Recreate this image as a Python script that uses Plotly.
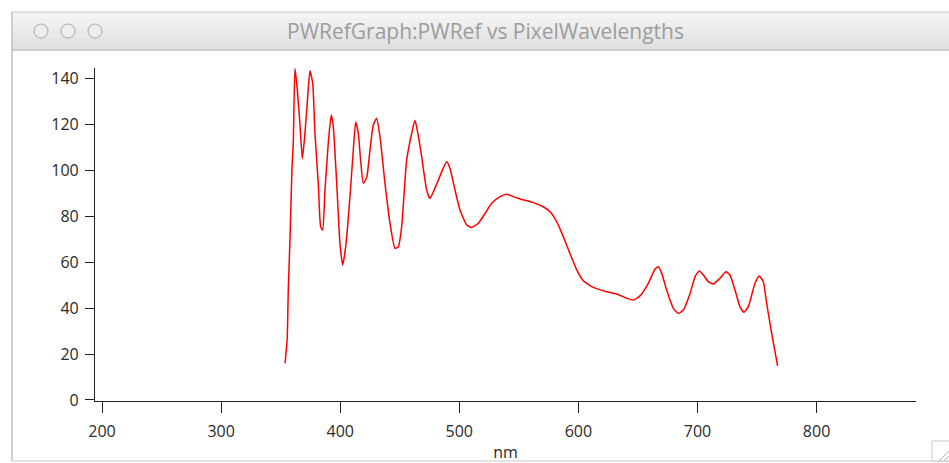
import plotly.graph_objects as go

# ---- data ----
wavelength_nm = [
    353.7, 355.5, 356.4, 357.9, 359.5, 360.6, 362.0, 364.0, 366.2, 368.2,
    370.4, 372.7, 374.6, 376.9, 378.8, 381.6, 383.6, 385.3, 387.2, 390.0,
    392.5, 394.2, 397.1, 399.8, 402.1, 404.9, 408.2, 411.0, 413.0, 415.2,
    417.2, 419.4, 422.3, 425.0, 427.8, 430.6, 433.4, 437.6, 441.8, 446.0,
    448.8, 451.6, 455.8, 460.0, 462.8, 465.6, 468.4, 472.6, 475.4, 478.2,
    482.4, 485.2, 489.4, 492.2, 496.4, 500.6, 506.2, 510.4, 516.0, 521.6,
    527.2, 534.2, 539.8, 545.3, 551.0, 562.1, 570.5, 576.2, 581.8, 587.3,
    592.9, 598.6, 604.1, 612.5, 623.8, 632.2, 640.6, 646.1, 651.7, 658.7,
    664.3, 667.1, 670.0, 674.1, 679.7, 683.9, 688.1, 693.8, 698.0, 701.5,
    704.9, 709.1, 713.3, 718.9, 724.0, 727.3, 731.5, 735.7, 739.0, 742.7,
    748.3, 751.9, 755.3, 758.1, 762.3, 767.3,
]
pwref = [
    16.0, 27.0, 48.0, 71.0, 101.0, 112.0, 144.3, 135.0, 120.0, 105.0,
    116.0, 132.0, 143.3, 138.0, 116.0, 94.0, 75.4, 74.0, 91.0, 112.0,
    124.0, 119.0, 94.0, 68.0, 58.7, 68.0, 88.5, 108.8, 121.0, 116.0,
    104.0, 94.3, 97.0, 108.8, 119.7, 122.6, 114.6, 94.3, 77.0, 66.0,
    66.7, 75.4, 104.4, 116.0, 121.8, 115.0, 105.9, 91.4, 87.7, 90.6,
    95.7, 99.3, 103.7, 100.8, 91.4, 82.7, 76.2, 75.1, 76.9, 81.2,
    85.6, 88.5, 89.6, 88.5, 87.5, 85.9, 84.1, 81.9, 77.6, 71.1,
    63.8, 56.6, 51.9, 49.0, 47.1, 46.1, 44.3, 43.5, 45.3, 50.8,
    56.9, 58.0, 55.1, 47.9, 39.9, 37.7, 39.2, 46.4, 53.7, 56.1,
    54.4, 51.5, 50.5, 53.0, 55.8, 54.4, 47.9, 40.6, 38.2, 40.6,
    50.8, 54.0, 51.5, 42.1, 29.0, 14.8,
]
x_ticks = [200, 300, 400, 500, 600, 700, 800]
y_ticks = [0, 20, 40, 60, 80, 100, 120, 140]
window_title = "PWRefGraph:PWRef vs PixelWavelengths"
x_title = "nm"

# ---- layout geometry (pixels) ----
W, H = 949, 463
L, R, T, B = 95, 916, 68, 401
PW, PH = R - L, B - T


def px(x):
    return (x - L) / PW


def py(y):
    return (B - y) / PH


fig = go.Figure()
fig.add_trace(go.Scatter(
    x=wavelength_nm, y=pwref, mode="lines",
    line=dict(color="#ff0000", width=1.5, shape="spline", smoothing=0.5),
    hoverinfo="skip", showlegend=False,
))

shapes = []
# window title bar (banded gradient)
bands = ["#f4f4f4", "#f0f0f0", "#ececec", "#e8e8e8", "#e4e4e4", "#e0e0e0"]
top, bot = 12, 50
step = (bot - top) / len(bands)
for i, c in enumerate(bands):
    shapes.append(dict(type="rect", xref="paper", yref="paper", layer="below",
                       x0=px(12), x1=px(W + 2), y0=py(top + i * step), y1=py(top + (i + 1) * step + 0.5),
                       fillcolor=c, line=dict(width=0)))
# title bar top & bottom borders
shapes.append(dict(type="line", xref="paper", yref="paper", x0=px(12), x1=px(W + 2),
                   y0=py(12), y1=py(12), line=dict(color="#c8c8c8", width=1)))
shapes.append(dict(type="line", xref="paper", yref="paper", x0=px(12), x1=px(W + 2),
                   y0=py(50), y1=py(50), line=dict(color="#b4b4b4", width=1)))
# left window edge
shapes.append(dict(type="line", xref="paper", yref="paper", x0=px(12), x1=px(12),
                   y0=py(12), y1=py(461), line=dict(color="#c0c0c0", width=1.5)))
# bottom window edge
shapes.append(dict(type="line", xref="paper", yref="paper", x0=px(12), x1=px(W + 2),
                   y0=py(461), y1=py(461), line=dict(color="#c8c8c8", width=1)))
# traffic lights (inactive)
for cx in (41, 68, 95):
    r = 7
    shapes.append(dict(type="circle", xref="paper", yref="paper",
                       x0=px(cx - r), x1=px(cx + r), y0=py(31 - r), y1=py(31 + r),
                       fillcolor="#eeeeee", line=dict(color="#a8a8a8", width=1)))
# resize grip
shapes.append(dict(type="rect", xref="paper", yref="paper",
                   x0=px(932), x1=px(W + 2), y0=py(441), y1=py(461),
                   fillcolor="#ffffff", line=dict(color="#c8c8c8", width=1)))
for d in (5, 10):
    shapes.append(dict(type="line", xref="paper", yref="paper",
                       x0=px(W - d), x1=px(W), y0=py(461), y1=py(461 - d),
                       line=dict(color="#b0b0b0", width=1)))

fig.update_layout(
    width=W, height=H,
    margin=dict(l=L, r=W - R, t=T, b=H - B, pad=0, autoexpand=False),
    paper_bgcolor="#ffffff", plot_bgcolor="#ffffff",
    font=dict(family="Open Sans, Liberation Sans, sans-serif", size=16, color="#2a2a2a"),
    shapes=shapes,
    annotations=[dict(text=window_title, xref="paper", yref="paper",
                      x=px(485), y=py(31), xanchor="center", yanchor="middle",
                      showarrow=False, font=dict(size=21, color="#9c9c9c"))],
    xaxis=dict(range=[194.1, 883.5], tickvals=x_ticks, ticks="outside", ticklen=11,
               tickcolor="#222222", showline=True, linecolor="#222222", linewidth=1.2,
               showgrid=False, zeroline=False, mirror=False, automargin=False,
               ticklabelstandoff=5,
               title=dict(text=x_title, standoff=10, font=dict(size=16, color="#2a2a2a"))),
    yaxis=dict(range=[-0.44, 144.5], tickvals=y_ticks, ticks="outside", ticklen=9,
               tickcolor="#222222", showline=True, linecolor="#222222", linewidth=1.2,
               showgrid=False, zeroline=False, mirror=False, automargin=False,
               ticklabelstandoff=3),
)

fig.write_html(
    "out.html",
    config={"displayModeBar": False},
    post_script="document.body.style.margin='0';document.body.style.overflow='hidden';",
)
